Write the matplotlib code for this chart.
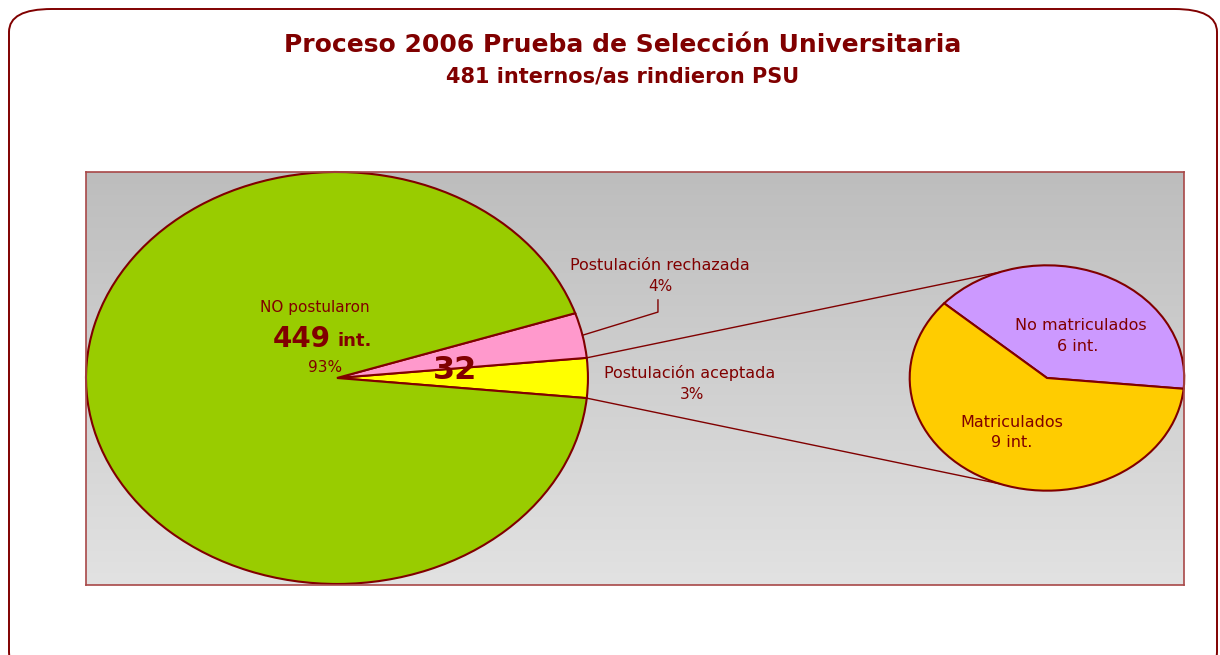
import matplotlib.pyplot as plt
import numpy as np
from matplotlib.patches import FancyBboxPatch

# ======================================================
# Data
# ======================================================

main_labels = ["Postulación aceptada", "Postulación rechazada", "NO postularon"]
main_values = [15, 17, 449]
main_colors = ["#FFFF00", "#FF99CC", "#99CC00"]

sub_labels = ["No matriculados", "Matriculados"]
sub_values = [6, 9]
sub_colors = ["#CC99FF", "#FFCC00"]

total = sum(main_values)
pct = [round(100 * v / total) for v in main_values]
postularon = main_values[0] + main_values[1]

DARK = "#800000"

# ======================================================
# Figure
# ======================================================

W, H = 1220, 655
fig = plt.figure(figsize=(W / 100, H / 100), dpi=100)
fig.patch.set_facecolor("white")

frame = FancyBboxPatch(
    (9 / W, -20 / H), 1208 / W, (H - 9 + 20) / H,
    boxstyle="round,pad=0,rounding_size=0.035",
    transform=fig.transFigure,
    facecolor="none", edgecolor=DARK, linewidth=1.4,
)
fig.patches.append(frame)

fig.text(623 / W, 1 - 45 / H, "Proceso 2006 Prueba de Selección Universitaria",
         ha="center", va="center", color=DARK, fontsize=18, fontweight="bold")
fig.text(623 / W, 1 - 77 / H, "481 internos/as rindieron PSU",
         ha="center", va="center", color=DARK, fontsize=15, fontweight="bold")

ax = fig.add_axes([86 / W, 1 - 585 / H, 1098 / W, 413 / H])

xlim = (-1.0, 3.375)
ylim = (-1.005, 1.0)

# gradient background
grad = np.linspace(0, 1, 256).reshape(-1, 1)
ax.imshow(grad, extent=[xlim[0], xlim[1], ylim[0], ylim[1]],
          cmap=plt.matplotlib.colors.LinearSegmentedColormap.from_list(
              "bg", ["#bdbdbd", "#e2e2e2"]),
          aspect="auto", zorder=0, origin="upper")

start = -main_values[0] / total * 360 / 2
wedges, _ = ax.pie(main_values, colors=main_colors, startangle=start,
                   radius=1, center=(0, 0), counterclock=True,
                   wedgeprops=dict(edgecolor=DARK, linewidth=1.5))

sub_center = (2.829, 0)
sub_r = 0.547
ax.pie(sub_values, colors=sub_colors, startangle=-5.5,
       radius=sub_r, center=sub_center, counterclock=True,
       wedgeprops=dict(edgecolor=DARK, linewidth=1.5))

# connector lines between pies
a1 = np.deg2rad(start + main_values[0] / total * 360)
a0 = np.deg2rad(start)
for a_main, a_sub in [(a1, 110), (a0, -110)]:
    ax.plot([np.cos(a_main), sub_center[0] + sub_r * np.cos(np.deg2rad(a_sub))],
            [np.sin(a_main), sub_center[1] + sub_r * np.sin(np.deg2rad(a_sub))],
            color=DARK, linewidth=1.0, zorder=1)

# leader line for rechazada
w = wedges[1]
mid = np.deg2rad((w.theta1 + w.theta2) / 2)
ax.plot([np.cos(mid), 1.279, 1.279], [np.sin(mid), 0.320, 0.379],
        color=DARK, linewidth=1.0, zorder=3)

ax.set_aspect("auto")
ax.set_xlim(*xlim)
ax.set_ylim(*ylim)
ax.set_xticks([])
ax.set_yticks([])
ax.set_frame_on(True)
for s in ax.spines.values():
    s.set_color("#a84848")
    s.set_linewidth(1.2)

# ======================================================
# Labels
# ======================================================

txt = dict(color=DARK, ha="center", va="center", zorder=5)

ax.text(1.287, 0.544, main_labels[1], fontsize=11.5, **txt)
ax.text(1.287, 0.442, f"{pct[1]}%", fontsize=11, **txt)
ax.text(1.406, 0.024, main_labels[0], fontsize=11.5, **txt)
ax.text(1.414, -0.078, f"{pct[0]}%", fontsize=11, **txt)

ax.text(-0.088, 0.34, main_labels[2], fontsize=11, **txt)
ax.text(-0.024, 0.19, f"{main_values[2]}", fontsize=20, fontweight="bold",
        color=DARK, ha="right", va="center", zorder=5)
ax.text(0.004, 0.18, "int.", fontsize=13, fontweight="bold",
        color=DARK, ha="left", va="center", zorder=5)
ax.text(-0.048, 0.049, f"{pct[2]}%", fontsize=11, **txt)
ax.text(0.47, 0.034, f"{postularon}", fontsize=23, fontweight="bold", **txt)

ax.text(2.964, 0.257, sub_labels[0], fontsize=11.5, **txt)
ax.text(2.952, 0.155, f"{sub_values[0]} int.", fontsize=11.5, **txt)
ax.text(2.689, -0.214, sub_labels[1], fontsize=11.5, **txt)
ax.text(2.689, -0.311, f"{sub_values[1]} int.", fontsize=11.5, **txt)

plt.savefig("out.png", dpi=100)
